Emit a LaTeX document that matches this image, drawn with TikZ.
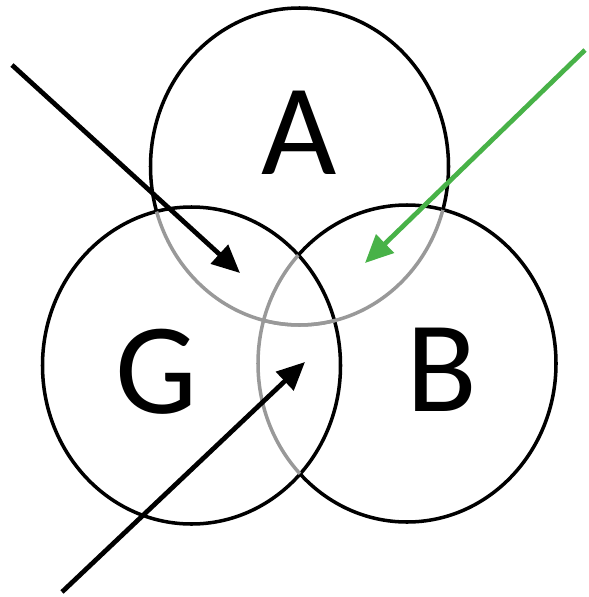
\documentclass[tikz,border=0pt]{standalone}
\usepackage{fontspec}
\setmainfont{Carlito}
\usetikzlibrary{arrows.meta, positioning}

\definecolor{arrowgreen}{RGB}{72,178,72}

\begin{document}
\begin{tikzpicture}[x=0.1mm, y=-0.1mm,
  ring/.style={line width=1pt, black},
  inner ring/.style={line width=1pt, black!40},
  pointer/.style={line width=1.35pt, -{Triangle[length=2.8mm, width=2.5mm]}},
  setname/.style={font=\fontsize{37}{37}\selectfont, inner sep=0pt}]
\useasboundingbox (0,0) rectangle (588,597);
% circle centres
\coordinate (cA) at (299.5,166.5);
\coordinate (cG) at (191.5,365.5);
\coordinate (cB) at (407,363.5);
% G is drawn whole
\draw[ring] (cG) ellipse [x radius=149, y radius=158.5];
% B: grey inside G, black outside
\begin{scope}
  \clip (cG) ellipse [x radius=149, y radius=158.5];
  \draw[inner ring] (cB) ellipse [x radius=149, y radius=158.5];
\end{scope}
\begin{scope}[even odd rule]
  \clip (-50,-50) rectangle (650,650) (cG) ellipse [x radius=149, y radius=158.5];
  \draw[ring] (cB) ellipse [x radius=149, y radius=158.5];
\end{scope}
% A: grey inside G or B, black elsewhere
\begin{scope}
  \clip (cG) ellipse [x radius=149, y radius=158.5];
  \draw[inner ring] (cA) ellipse [x radius=149, y radius=158.5];
\end{scope}
\begin{scope}
  \clip (cB) ellipse [x radius=149, y radius=158.5];
  \draw[inner ring] (cA) ellipse [x radius=149, y radius=158.5];
\end{scope}
\begin{scope}[even odd rule]
  \clip (-50,-50) rectangle (650,650) (cG) ellipse [x radius=149, y radius=158.5];
  \clip (-50,-50) rectangle (650,650) (cB) ellipse [x radius=149, y radius=158.5];
  \draw[ring] (cA) ellipse [x radius=149, y radius=158.5];
\end{scope}
% set names
\node[setname] (A) at (299,133) {A};
\node[setname] (G) at (156.5,371.5) {G};
\node[setname] (B) at (441.5,369.5) {B};
% arrows into the overlaps
\coordinate (tailAG) at (12,65);
\coordinate (tipAG) at (240,273);
\coordinate (tailAB) at (585,50);
\coordinate (tipAB) at (365,263);
\coordinate (tailGB) at (62,592);
\coordinate (tipGB) at (305,362);
\draw[pointer] (tailAG) -- (tipAG);
\draw[pointer, arrowgreen] (tailAB) -- (tipAB);
\draw[pointer] (tailGB) -- (tipGB);
\end{tikzpicture}
\end{document}
